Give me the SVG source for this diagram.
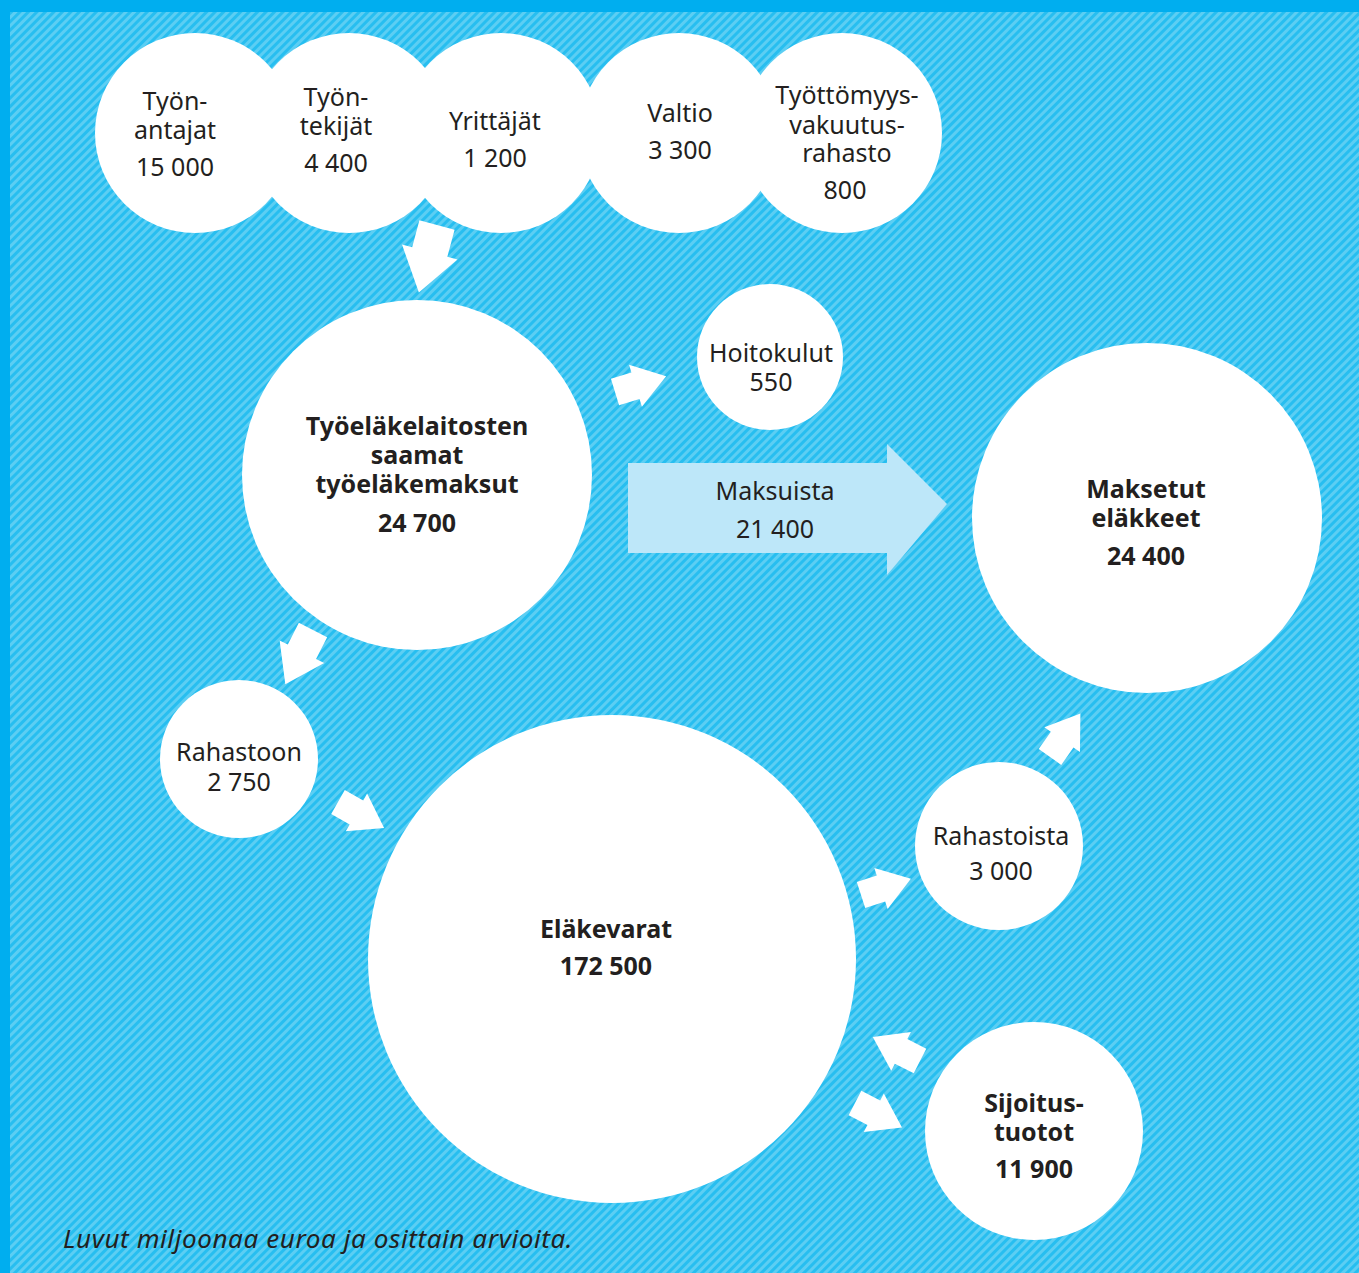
<svg xmlns="http://www.w3.org/2000/svg" width="1359" height="1273" viewBox="0 0 1359 1273">
<defs>
<pattern id="hatch" patternUnits="userSpaceOnUse" width="6" height="6" patternTransform="rotate(45)">
<rect width="6" height="6" fill="#27BEF0"/>
<rect width="3" height="6" fill="#5CCEF3"/>
</pattern>
<polygon id="arr" points="0,-13 20,-13 20,-20.5 50,0 20,20.5 20,13 0,13"/>
<style>
.n{fill:#fff}
.t{font-family:"Noto Sans","Open Sans",sans-serif;font-size:25px;fill:#231F20;text-anchor:middle}
.b{font-weight:bold}
.a{fill:#fff}
</style>
</defs>
<rect width="1359" height="1273" fill="#00AEEF"/>
<rect x="10" y="12" width="1349" height="1261" fill="url(#hatch)"/>

<g id="connectors">
<use href="#arr" class="a" transform="translate(437,225) rotate(105) scale(1.4)"/>
<use href="#arr" class="a" transform="translate(615,392) rotate(-17) scale(1.07)"/>
<use href="#arr" class="a" transform="translate(313,630) rotate(117) scale(1.22)"/>
<use href="#arr" class="a" transform="translate(338,802) rotate(29.5) scale(1.06)"/>
<use href="#arr" class="a" transform="translate(1050,757) rotate(-55) scale(1.06)"/>
<use href="#arr" class="a" transform="translate(861,895) rotate(-18) scale(1.05)"/>
<use href="#arr" class="a" transform="translate(920,1061) rotate(-153) scale(1.06)"/>
<use href="#arr" class="a" transform="translate(855,1103) rotate(27.5) scale(1.06)"/>
<g id="maksuista">
<polygon points="628,463 887,463 887,444 947,504 887,575 887,553 628,553" fill="#BDE7F9"/>
<text class="t" x="775" y="500">Maksuista</text>
<text class="t" x="775" y="538">21 400</text>
</g>
</g>

<g id="tyonantajat"><circle class="n" cx="195" cy="133" r="100"/>
<text class="t" x="175" y="110">Työn-</text><text class="t" x="175" y="139">antajat</text><text class="t" x="175" y="176">15 000</text></g>
<g id="tyontekijat"><circle class="n" cx="349" cy="133" r="100"/>
<text class="t" x="336" y="106">Työn-</text><text class="t" x="336" y="135">tekijät</text><text class="t" x="336" y="172">4 400</text></g>
<g id="yrittajat"><circle class="n" cx="501" cy="133" r="100"/>
<text class="t" x="495" y="130">Yrittäjät</text><text class="t" x="495" y="167">1 200</text></g>
<g id="valtio"><circle class="n" cx="679" cy="133" r="100"/>
<text class="t" x="680" y="122">Valtio</text><text class="t" x="680" y="159">3 300</text></g>
<g id="tvr"><circle class="n" cx="842" cy="133" r="100"/>
<text class="t" x="847" y="104">Työttömyys-</text><text class="t" x="847" y="134">vakuutus-</text><text class="t" x="847" y="162">rahasto</text><text class="t" x="845" y="199">800</text></g>

<g id="maksut"><circle class="n" cx="417" cy="475" r="175"/>
<text class="t b" x="417" y="435">Työeläkelaitosten</text><text class="t b" x="417" y="464">saamat</text><text class="t b" x="417" y="493">työeläkemaksut</text><text class="t b" x="417" y="532">24 700</text></g>

<g id="hoitokulut"><circle class="n" cx="770" cy="357" r="73"/>
<text class="t" x="771" y="362">Hoitokulut</text><text class="t" x="771" y="391">550</text></g>

<g id="maksetut"><circle class="n" cx="1147" cy="518" r="175"/>
<text class="t b" x="1146" y="498">Maksetut</text><text class="t b" x="1146" y="527">eläkkeet</text><text class="t b" x="1146" y="565">24 400</text></g>

<g id="rahastoon"><circle class="n" cx="239" cy="759" r="79"/>
<text class="t" x="239" y="761">Rahastoon</text><text class="t" x="239" y="791">2 750</text></g>

<g id="elakevarat"><circle class="n" cx="612" cy="959" r="244"/>
<text class="t b" x="606" y="938">Eläkevarat</text><text class="t b" x="606" y="975">172 500</text></g>

<g id="rahastoista"><circle class="n" cx="999" cy="846" r="84"/>
<text class="t" x="1001" y="845">Rahastoista</text><text class="t" x="1001" y="880">3 000</text></g>

<g id="sijoitus"><circle class="n" cx="1034" cy="1131" r="109"/>
<text class="t b" x="1034" y="1112">Sijoitus-</text><text class="t b" x="1034" y="1141">tuotot</text><text class="t b" x="1034" y="1178">11 900</text></g>

<text x="63" y="1248" style="font-family:'Noto Sans','Open Sans',sans-serif;font-size:26px;letter-spacing:0.6px;font-style:italic;fill:#231F20">Luvut miljoonaa euroa ja osittain arvioita.</text>
</svg>
